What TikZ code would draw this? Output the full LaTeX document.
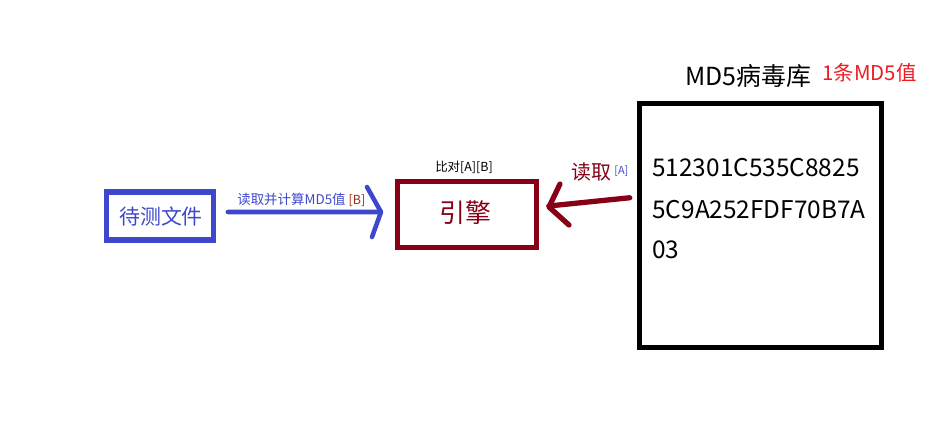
\documentclass[tikz,border=0pt]{standalone}
\usepackage{fontspec}
\setmainfont{Noto Sans CJK SC}
\newcommand{\fpx}[1]{\fontsize{\dimexpr #1\dimexpr 0.5669pt\relax\relax}{\dimexpr #1\dimexpr 0.68pt\relax\relax}\selectfont}
\definecolor{pblue}{HTML}{3F48CC}
\definecolor{pdred}{HTML}{880015}
\definecolor{pred}{HTML}{ED1C24}
\definecolor{pbrown}{HTML}{A02A14}
\begin{document}
\begin{tikzpicture}[x=0.02cm,y=-0.02cm,
  boxa/.style={draw=pblue,line width=3.2pt,inner sep=0pt},
  boxb/.style={draw=pdred,line width=3pt,inner sep=0pt},
  boxc/.style={draw=black,line width=3pt,inner sep=0pt},
  txt/.style={inner sep=0pt,anchor=center},
  arrb/.style={draw=pblue,line width=2.6pt,line cap=round,line join=round},
  arrr/.style={draw=pdred,line width=3pt,line cap=round,line join=round}]
\useasboundingbox (0,0) rectangle (948,446);
\fill[white] (0,0) rectangle (948,446);
% boxes
\node[boxa,minimum width=107*0.02cm,minimum height=48*0.02cm] (test) at (160,216) {};
\node[txt,text=pblue,font=\fpx{21}] (testt) at (161,216) {待测文件};
\node[boxb,minimum width=138.5*0.02cm,minimum height=66*0.02cm] (eng) at (467,214.5) {};
\node[txt,text=pdred,font=\fpx{26}] (engt) at (465,213) {引擎};
\node[boxc,minimum width=241.5*0.02cm,minimum height=243.5*0.02cm] (db) at (760.5,225.5) {};
% texts
\node[txt,font=\fpx{12.5}] (cmp) at (464,167) {比对[A][B]};
\node[txt,anchor=west,text=pblue,font=\fpx{13.5}] (lblb) at (237,200) {读取并计算MD5值 \textcolor{pbrown}{\fpx{12.5}[B]}};
\node[txt,anchor=west,text=pdred,font=\fpx{20}] (lblr) at (571,172) {读取};
\node[txt,anchor=west,text=pblue,font=\fpx{11}] (lbla) at (614,171) {[A]};
\node[txt,anchor=west,font=\fpx{25}] (dbt) at (685,76) {MD5病毒库};
\node[txt,anchor=west,text=pred,font=\fpx{20.5}] (dbn) at (822,73) {1条MD5值};
\node[txt,anchor=base west,font=\fpx{24.5}] (h1) at (652,177) {512301C535C8825};
\node[txt,anchor=base west,font=\fpx{24.5}] (h2) at (652,219) {5C9A252FDF70B7A};
\node[txt,anchor=base west,font=\fpx{24.5}] (h3) at (652,259) {03};
% blue arrow: test -> eng
\draw[arrb,shorten <=0.232cm,shorten >=0.29cm]
  ([yshift=0.08cm]test.east) -- ([yshift=0.05cm]eng.west);
\coordinate (tipb) at (381,212);
\draw[arrb] (367,187) -- (tipb) -- (372,237);
% red arrow: db -> eng
\draw[arrr,shorten <=0.148cm,shorten >=0.2cm]
  ([yshift=0.57cm]db.west) -- ([yshift=0.15cm]eng.east);
\coordinate (tipr) at (549,207);
\draw[arrr] (560,184) -- (tipr) -- (569,225);
\end{tikzpicture}
\end{document}
